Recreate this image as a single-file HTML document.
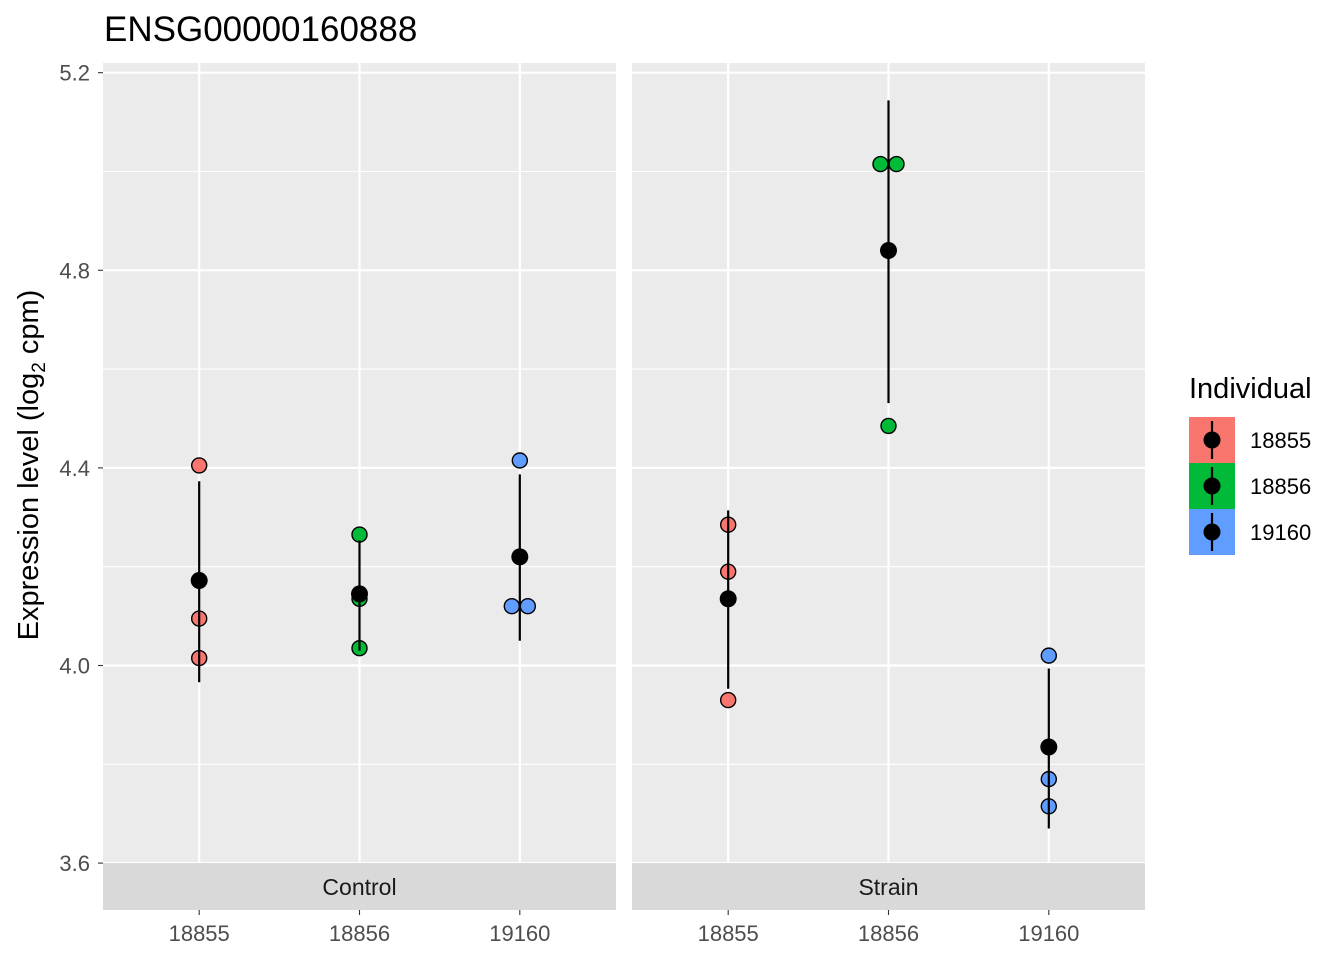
<!DOCTYPE html>
<html><head><meta charset="utf-8">
<style>
body{margin:0;background:#fff;font-family:"Liberation Sans",Arial,sans-serif}
svg text{font-family:"Liberation Sans",Arial,sans-serif}
</style></head>
<body>
<svg id="chart" width="1344" height="960" xmlns="http://www.w3.org/2000/svg">
<text x="104" y="41" font-size="35" fill="#000">ENSG00000160888</text>
<text transform="translate(38,465) rotate(-90)" text-anchor="middle" font-size="29" fill="#000">Expression level (log<tspan font-size="19" dy="7">2</tspan><tspan dy="-7"> cpm)</tspan></text>
<g id="panels"></g>
<g>
<text x="1189" y="398" font-size="29" fill="#000">Individual</text>
<g id="legend"></g>
</g>
</svg>
<script>
const panels=["Control","Strain"];
const categories=["18855","18856","19160"];
const colors=["#F8766D","#00BA38","#619CFF"];
const yTicks=[3.6,4.0,4.4,4.8,5.2];
const yMinor=[3.8,4.2,4.6,5.0];
const pointsControl=[[4.405,4.095,4.015],[4.265,4.135,4.035],[4.415,4.12,4.12]];
const pointsStrain=[[4.285,4.19,3.93],[5.015,5.015,4.485],[4.02,3.77,3.715]];
const meansControl=[4.172,4.145,4.22];
const meansStrain=[4.135,4.84,3.835];
const lowControl=[3.966,4.03,4.05];
const highControl=[4.373,4.253,4.387];
const lowStrain=[3.953,4.531,3.67];
const highStrain=[4.314,5.144,3.994];

const NS="http://www.w3.org/2000/svg";
const plotTop=63,plotBot=863;
function y(v){return 665.5-(v-4)*494;}
const panelX=[103,632],panelW=513;
function x(p,i){return panelX[p]+panelW*(i+0.6)/3.2;}
function mk(tag,attrs,parent){const e=document.createElementNS(NS,tag);for(const k in attrs)e.setAttribute(k,attrs[k]);parent.appendChild(e);return e;}
const root=document.getElementById('panels');
const pts=[pointsControl,pointsStrain],means=[meansControl,meansStrain],lows=[lowControl,lowStrain],highs=[highControl,highStrain];
panels.forEach((name,p)=>{
  const g=mk('g',{},root);
  
  
  const bg=mk('rect',{x:panelX[p],y:plotTop,width:panelW,height:plotBot-plotTop,fill:'#EBEBEB'},g);
  
  
  yMinor.forEach(v=>{mk('line',{x1:panelX[p],x2:panelX[p]+panelW,y1:y(v),y2:y(v),stroke:'#fff','stroke-width':1.1},g);});
  yTicks.forEach(v=>{mk('line',{x1:panelX[p],x2:panelX[p]+panelW,y1:y(v),y2:y(v),stroke:'#fff','stroke-width':2.2},g);});
  categories.forEach((c,i)=>{mk('line',{x1:x(p,i),x2:x(p,i),y1:plotTop,y2:plotBot,stroke:'#fff','stroke-width':2.2},g);});
  const st=mk('rect',{x:panelX[p],y:863,width:panelW,height:47,fill:'#D9D9D9'},g);
  
  
  const stt=mk('text',{x:panelX[p]+panelW/2,y:895,'text-anchor':'middle','font-size':23,fill:'#1A1A1A'},g);
  stt.textContent=name;
  
  
  categories.forEach((c,i)=>{
    mk('line',{x1:x(p,i),x2:x(p,i),y1:910,y2:915,stroke:'#333','stroke-width':1.1},g);
    const t=mk('text',{x:x(p,i),y:941,'text-anchor':'middle','font-size':22,fill:'#4D4D4D'},g);
    t.textContent=c;
    
    
    const arr=pts[p][i];
    arr.forEach((v,k)=>{
      const dup=arr.filter(w=>Math.abs(w-v)<0.01);
      let dx=0;
      if(dup.length>1){const idx=arr.slice(0,k).filter(w=>Math.abs(w-v)<0.01).length;dx=(idx-(dup.length-1)/2)*16;}
      const cc=mk('circle',{cx:x(p,i)+dx,cy:y(v),r:7.5,fill:colors[i],stroke:'#000','stroke-width':1.4},g);
      
      
    });
    const eb=mk('line',{x1:x(p,i),x2:x(p,i),y1:y(highs[p][i]),y2:y(lows[p][i]),stroke:'#000','stroke-width':2.2},g);
    
    
    const m=mk('circle',{cx:x(p,i),cy:y(means[p][i]),r:8.5,fill:'#000'},g);
    
    
  });
});
yTicks.forEach(v=>{
  mk('line',{x1:98,x2:103,y1:y(v),y2:y(v),stroke:'#333','stroke-width':1.1},root);
  const t=mk('text',{x:90,y:y(v)+8,'text-anchor':'end','font-size':22,fill:'#4D4D4D'},root);
  t.textContent=v.toFixed(1);
  
  
});
const lg=document.getElementById('legend');
categories.forEach((c,i)=>{
  const ty=417+i*46;
  const r=mk('rect',{x:1189,y:ty,width:46,height:46,fill:colors[i]},lg);
  
  
  mk('line',{x1:1212,x2:1212,y1:ty+4,y2:ty+42,stroke:'#000','stroke-width':2.2},lg);
  mk('circle',{cx:1212,cy:ty+23,r:8.5,fill:'#000'},lg);
  const t=mk('text',{x:1250,y:ty+31,'font-size':22,fill:'#000'},lg);
  t.textContent=c;
  
  
});
</script>
</body></html>
